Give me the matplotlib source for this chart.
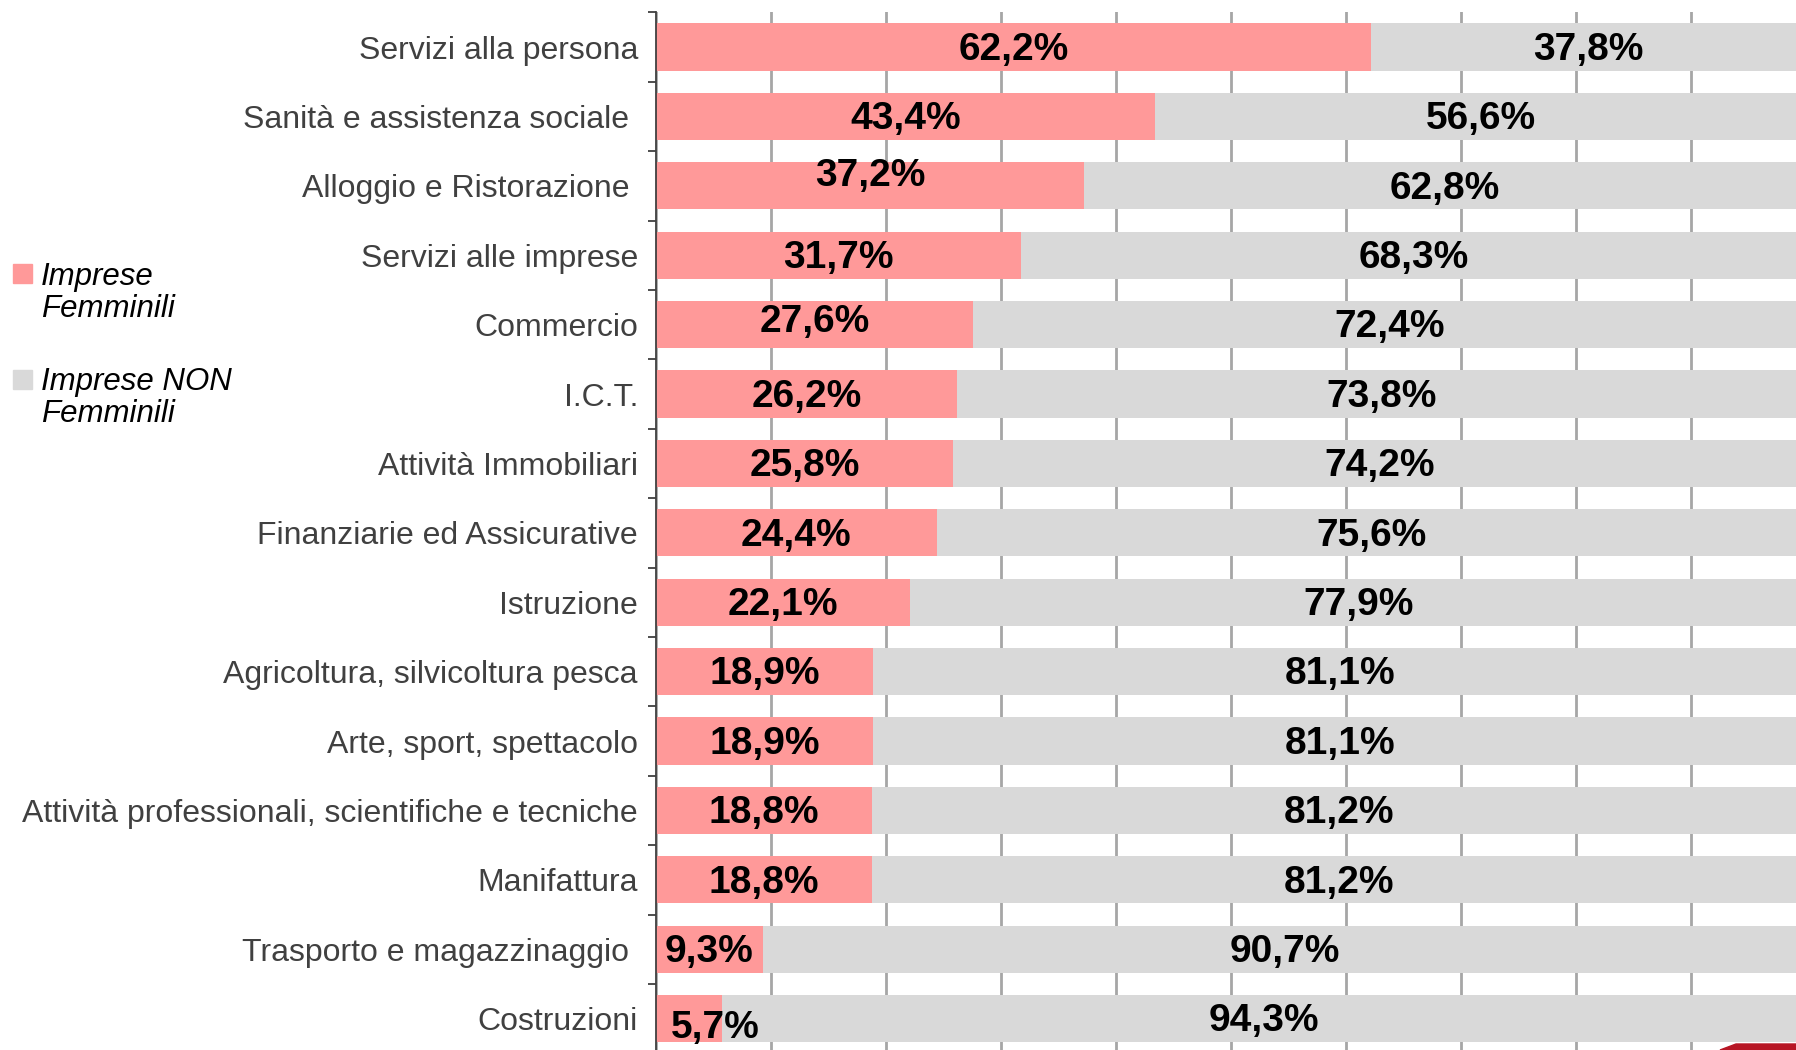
import numpy as np
import matplotlib.pyplot as plt
from matplotlib.patches import Polygon

# categories, top to bottom
categories = [
    "Servizi alla persona",
    "Sanità e assistenza sociale ",
    "Alloggio e Ristorazione ",
    "Servizi alle imprese",
    "Commercio",
    "I.C.T.",
    "Attività Immobiliari",
    "Finanziarie ed Assicurative",
    "Istruzione",
    "Agricoltura, silvicoltura pesca",
    "Arte, sport, spettacolo",
    "Attività professionali, scientifiche e tecniche",
    "Manifattura",
    "Trasporto e magazzinaggio ",
    "Costruzioni",
]
femminili = [62.2, 43.4, 37.2, 31.7, 27.6, 26.2, 25.8, 24.4, 22.1, 18.9, 18.9, 18.8, 18.8, 9.3, 5.7]
non_femminili = [37.8, 56.6, 62.8, 68.3, 72.4, 73.8, 74.2, 75.6, 77.9, 81.1, 81.1, 81.2, 81.2, 90.7, 94.3]

pink = '#FF9999'
grey = '#D9D9D9'

plt.rcParams['font.family'] = ['Liberation Sans', 'DejaVu Sans']

W, H = 1796, 1050
fig = plt.figure(figsize=(W / 100, H / 100), dpi=100)

# axes placed in pixels: left spine at x=656, 10% = 115 px, rows 69.4 px
left_px, top_px, row_px = 656, 12.3, 69.4
n = len(categories)
ax_h = n * row_px
ax = fig.add_axes([left_px / W, (H - top_px - ax_h) / H, (W - left_px) / W, ax_h / H])

y = np.arange(n)
f = np.array(femminili) / 100
nf = np.array(non_femminili) / 100

ax.barh(y, f, height=0.68, color=pink, zorder=2)
ax.barh(y, nf, left=f, height=0.68, color=grey, zorder=2)

# a few pink labels were nudged by hand in the original (offsets in points)
nudge = {2: (0, 9), 4: (0, 4), 14: (19, -5)}

for i in range(n):
    dx, dy = nudge.get(i, (0, 0))
    ax.annotate(f"{femminili[i]:.1f}%".replace('.', ','), (f[i] / 2, y[i]),
                xytext=(dx, dy - 2), textcoords='offset points',
                ha='center', va='center', fontsize=28, fontweight='bold', zorder=3)
    ax.annotate(f"{non_femminili[i]:.1f}%".replace('.', ','), (f[i] + nf[i] / 2, y[i]),
                xytext=(0, -2), textcoords='offset points',
                ha='center', va='center', fontsize=28, fontweight='bold', zorder=3)

ax.set_xlim(0, (W - left_px) / 1150)
ax.set_ylim(n - 0.5, -0.5)

ax.set_xticks(np.arange(0, 1.0, 0.1))
ax.xaxis.grid(True, color='#A6A6A6', linewidth=2, zorder=0)
ax.tick_params(axis='x', length=0, labelbottom=False)

ax.set_yticks(y)
ax.set_yticklabels(categories, fontsize=23, color='#404040')
ax.set_yticks(np.arange(-0.5, n, 1), minor=True)
ax.tick_params(axis='y', which='major', length=0, pad=13)
ax.tick_params(axis='y', which='minor', length=6, width=1.3, color='#404040')

for s in ['top', 'right', 'bottom']:
    ax.spines[s].set_visible(False)
ax.spines['left'].set_color('#404040')
ax.spines['left'].set_linewidth(1.3)
ax.set_axisbelow(True)

# legend drawn on the left
fig.patches.append(plt.Rectangle((13 / W, 1 - 283 / H), 19 / W, 19 / H,
                                 transform=fig.transFigure, color=pink))
fig.patches.append(plt.Rectangle((13 / W, 1 - 389 / H), 19 / W, 19 / H,
                                 transform=fig.transFigure, color=grey))
fig.text(41 / W, 1 - 262 / H, "Imprese\nFemminili", fontsize=22.5, style='italic',
         va='top', ha='left', linespacing=1.1)
fig.text(41 / W, 1 - 367 / H, "Imprese NON\nFemminili", fontsize=22.5, style='italic',
         va='top', ha='left', linespacing=1.1)

# red logo corner at bottom right
fig.patches.append(Polygon([(1720 / W, 0), (1736 / W, 6 / H), (1, 6 / H), (1, 0)],
                           closed=True, transform=fig.transFigure, color='#B71524'))

fig.savefig('out.png', dpi=100)
